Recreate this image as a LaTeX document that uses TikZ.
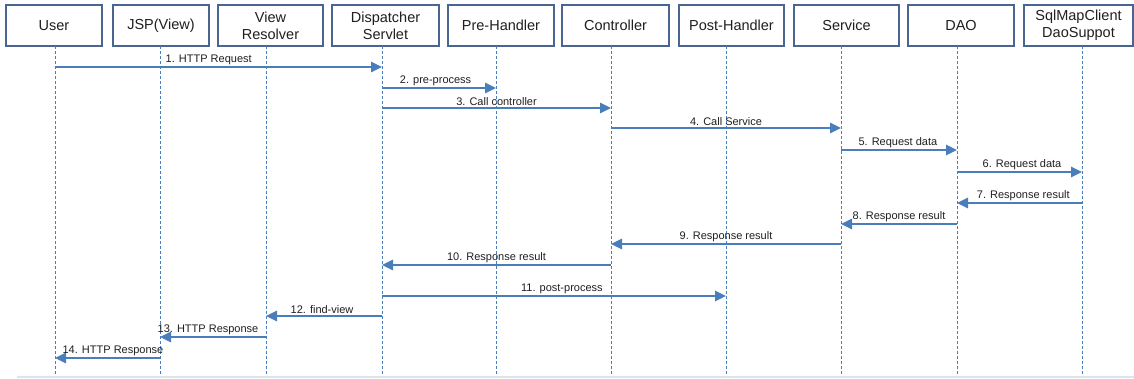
\documentclass[tikz,border=0pt]{standalone}
\usepackage{fontspec}
\setmainfont{Liberation Sans}
\usetikzlibrary{arrows.meta}
\definecolor{boxc}{HTML}{4A6690}
\definecolor{msgc}{HTML}{4A7EBB}
\definecolor{basec}{HTML}{DCE4F0}
\tikzset{
  x=1pt, y=-1pt,
  actor/.style={draw=boxc, line width=1.2pt, fill=white, minimum height=41pt, inner sep=0pt, align=center,
    font=\fontsize{14.5}{17}\selectfont, text=black!88},
  life/.style={draw=msgc, line width=0.9pt, dash pattern=on 3pt off 2pt},
  msg/.style={draw=msgc, line width=1.4pt, -{Triangle[length=11pt,width=10.5pt]}},
  lbl/.style={above, inner sep=1.5pt, font=\fontsize{11}{13}\selectfont, text=black!88},
}
\begin{document}
\begin{tikzpicture}
\useasboundingbox (0,0) rectangle (1134,378);
% actors
\node[actor, minimum width=96pt]  (user) at (54,25.5)   {User};
\node[actor, minimum width=96pt]  (jsp)  at (161,25.5)  {JSP(View)};
\node[actor, minimum width=105pt] (vr)   at (270.5,25.5){View\\Resolver};
\node[actor, minimum width=107pt] (disp) at (385.5,25.5){Dispatcher\\Servlet};
\node[actor, minimum width=106pt] (pre)  at (501,25.5)  {Pre-Handler};
\node[actor, minimum width=107pt] (ctrl) at (615.5,25.5){Controller};
\node[actor, minimum width=105pt] (post) at (731.5,25.5){Post-Handler};
\node[actor, minimum width=105pt] (svc)  at (846.5,25.5){Service};
\node[actor, minimum width=106pt] (dao)  at (961,25.5)  {DAO};
\node[actor, minimum width=109pt] (sql)  at (1078.5,25.5){SqlMapClient\\DaoSuppot};
% lifeline tops
\coordinate (Luser) at (55,46);
\coordinate (Ljsp)  at (160,46);
\coordinate (Lvr)   at (266,46);
\coordinate (Ldisp) at (382,46);
\coordinate (Lpre)  at (496,46);
\coordinate (Lctrl) at (611,46);
\coordinate (Lpost) at (726,46);
\coordinate (Lsvc)  at (841,46);
\coordinate (Ldao)  at (957,46);
\coordinate (Lsql)  at (1082,46);
\foreach \l in {Luser,Ljsp,Lvr,Ldisp,Lpre,Lctrl,Lpost,Lsvc,Ldao,Lsql}
  \draw[life] (\l) -- (\l |- 0,377);
% baseline
\draw[basec, line width=1.5pt] (17,377) -- (1134,377);
% messages
\draw[msg] (Luser |- 0,67)  -- node[lbl, pos=0.47] {1. HTTP Request} (Ldisp |- 0,67);
\draw[msg] (Ldisp |- 0,88)  -- node[lbl, pos=0.47] {2. pre-process} (Lpre |- 0,88);
\draw[msg] (Ldisp |- 0,108) -- node[lbl, pos=0.5] {3. Call controller} (Lctrl |- 0,108);
\draw[msg] (Lctrl |- 0,128) -- node[lbl, pos=0.5] {4. Call Service} (Lsvc |- 0,128);
\draw[msg] (Lsvc |- 0,150)  -- node[lbl, pos=0.49] {5. Request data} (Ldao |- 0,150);
\draw[msg] (Ldao |- 0,172)  -- node[lbl, pos=0.52] {6. Request data} (Lsql |- 0,172);
\draw[msg] (Lsql |- 0,203)  -- node[lbl, pos=0.47] {7. Response result} (Ldao |- 0,203);
\draw[msg] (Ldao |- 0,224)  -- node[lbl, pos=0.5] {8. Response result} (Lsvc |- 0,224);
\draw[msg] (Lsvc |- 0,244)  -- node[lbl, pos=0.5] {9. Response result} (Lctrl |- 0,244);
\draw[msg] (Lctrl |- 0,265) -- node[lbl, pos=0.5] {10. Response result} (Ldisp |- 0,265);
\draw[msg] (Ldisp |- 0,296) -- node[lbl, pos=0.523] {11. post-process} (Lpost |- 0,296);
\draw[msg] (Ldisp |- 0,316) -- node[lbl, pos=0.517] {12. find-view} (Lvr |- 0,316);
\draw[msg] (Lvr |- 0,337)   -- node[lbl, pos=0.547] {13. HTTP Response} (Ljsp |- 0,337);
\draw[msg] (Ljsp |- 0,358)  -- node[lbl, pos=0.448] {14. HTTP Response} (Luser |- 0,358);
\end{tikzpicture}
\end{document}
